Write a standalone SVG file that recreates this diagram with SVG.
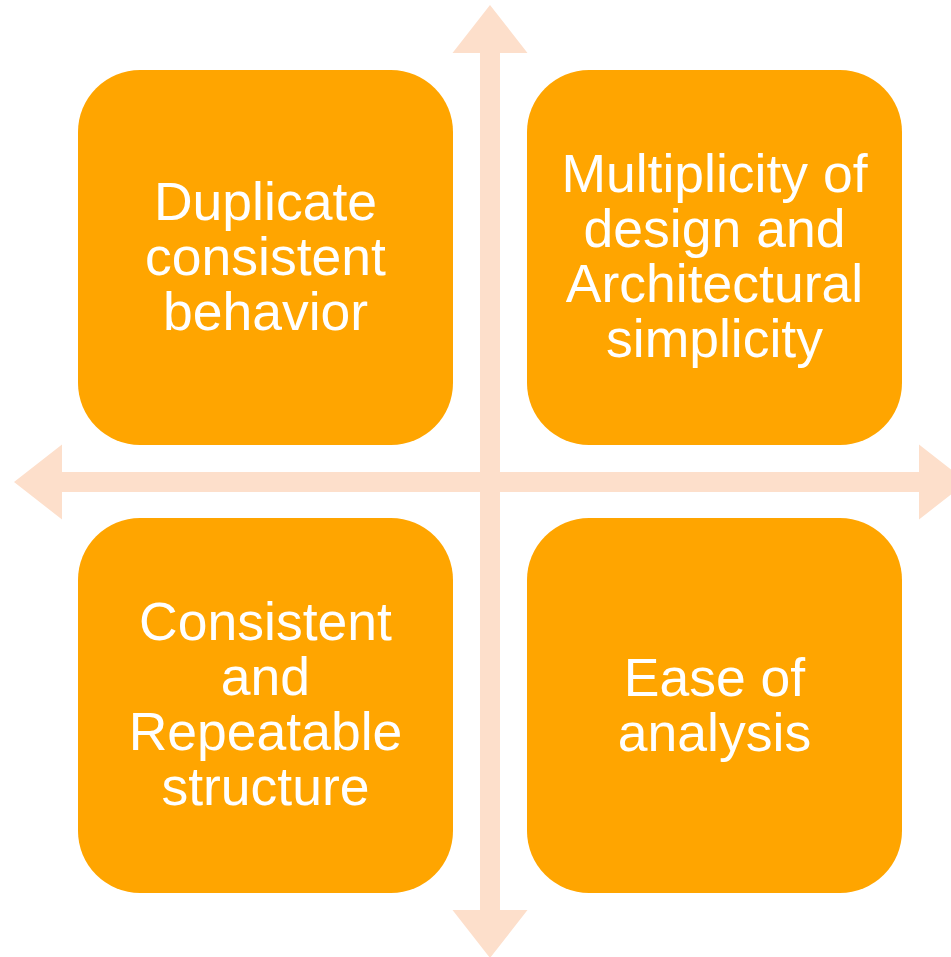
<svg xmlns="http://www.w3.org/2000/svg" width="951" height="957" viewBox="0 0 951 957">
<style>
.arrow{fill:#FDDFCB;}
.box{fill:#FFA500;}
.lbl{font-family:"Liberation Sans",Arial,sans-serif;font-size:53.5px;fill:#FFFFFF;text-anchor:middle;}
</style>
<rect width="951" height="957" fill="#FFFFFF"/>
<g id="connectors">
<polygon class="arrow" points="490,5 527.5,53 500,53 500,910 527.5,910 490,958 452.5,910 480,910 480,53 452.5,53"/>
<polygon class="arrow" points="14,482 62,444.5 62,472 919,472 919,444.5 967,482 919,519.5 919,492 62,492 62,519.5"/>
</g>
<g id="node-tl">
<rect class="box" x="78" y="70" width="375" height="375" rx="62" ry="62"/>
<text class="lbl"><tspan x="265.5" y="220">Duplicate</tspan><tspan x="265.5" y="275">consistent</tspan><tspan x="265.5" y="330">behavior</tspan></text>
</g>
<g id="node-tr">
<rect class="box" x="527" y="70" width="375" height="375" rx="62" ry="62"/>
<text class="lbl"><tspan x="714.5" y="192">Multiplicity of</tspan><tspan x="714.5" y="247">design and</tspan><tspan x="714.5" y="302">Architectural</tspan><tspan x="714.5" y="357">simplicity</tspan></text>
</g>
<g id="node-bl">
<rect class="box" x="78" y="518" width="375" height="375" rx="62" ry="62"/>
<text class="lbl"><tspan x="265.5" y="640">Consistent</tspan><tspan x="265.5" y="695">and</tspan><tspan x="265.5" y="750">Repeatable</tspan><tspan x="265.5" y="805">structure</tspan></text>
</g>
<g id="node-br">
<rect class="box" x="527" y="518" width="375" height="375" rx="62" ry="62"/>
<text class="lbl"><tspan x="714.5" y="696">Ease of</tspan><tspan x="714.5" y="751">analysis</tspan></text>
</g>
</svg>
